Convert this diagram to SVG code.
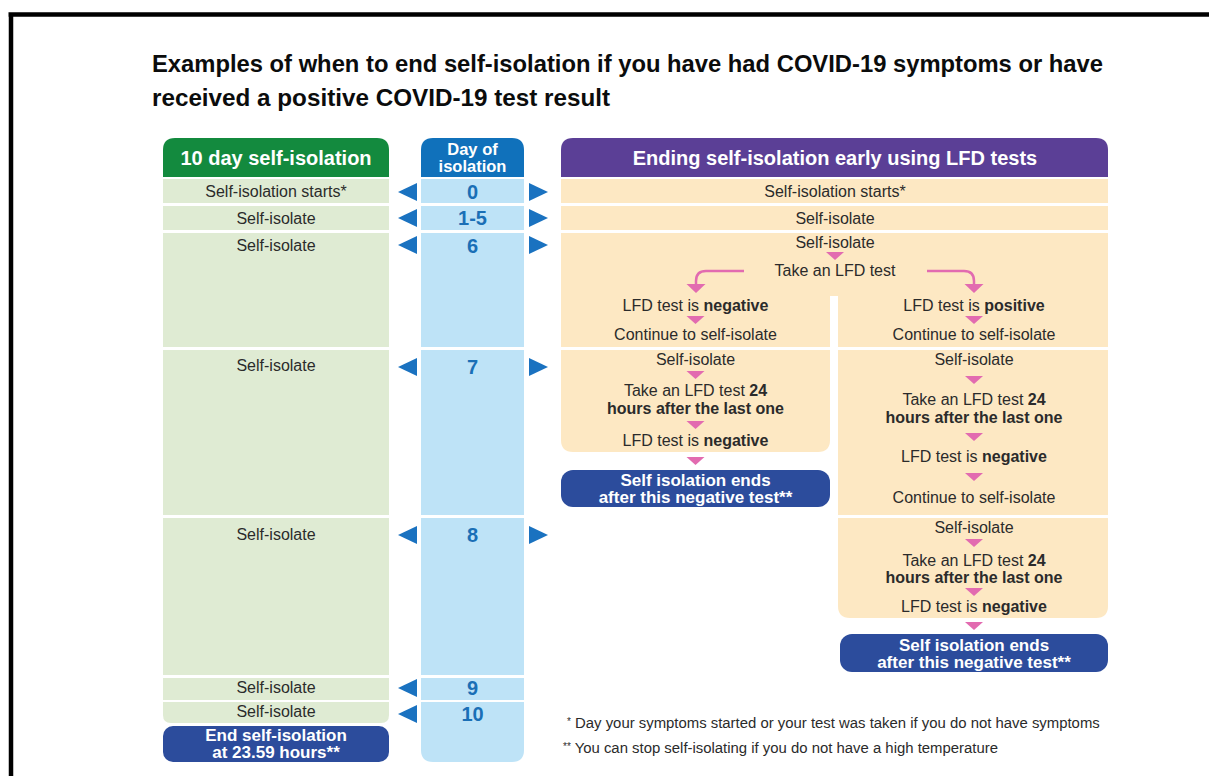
<svg xmlns="http://www.w3.org/2000/svg" width="1209" height="776" viewBox="0 0 1209 776">
<style>
.t{font-family:"Liberation Sans",Arial,sans-serif;font-size:16px;fill:#2b2b2b;text-anchor:middle}
.b{font-weight:bold}
.hd{font-family:"Liberation Sans",Arial,sans-serif;font-weight:bold;font-size:20px;fill:#fff;text-anchor:middle}
.hd2{font-family:"Liberation Sans",Arial,sans-serif;font-weight:bold;font-size:16.5px;fill:#fff;text-anchor:middle}
.wb{font-family:"Liberation Sans",Arial,sans-serif;font-weight:bold;font-size:17px;fill:#fff;text-anchor:middle}
.num{font-family:"Liberation Sans",Arial,sans-serif;font-weight:bold;font-size:20px;fill:#1a6fb6;text-anchor:middle}
.fn{font-family:"Liberation Sans",Arial,sans-serif;font-size:14.9px;fill:#2b2b2b}
.title{font-family:"Liberation Sans",Arial,sans-serif;font-weight:bold;font-size:24px;fill:#0b0c0c}
.g{fill:#dfebd3}
.lb{fill:#bee3f7}
.pe{fill:#fde8c3}
.db{fill:#2c4c9c}
.ba{fill:#1a72c0}
.pk{fill:#e26bb0}
.pl{fill:none;stroke:#e26bb0;stroke-width:2.5}
</style>
<rect width="1209" height="776" fill="#fff"/>
<path d="M8.5 14.5 H1209 M11 12.5 V776" stroke="#000" stroke-width="4.5" fill="none"/>

<g id="title">
<text class="title" x="152" y="72" textLength="951" lengthAdjust="spacingAndGlyphs">Examples of when to end self-isolation if you have had COVID-19 symptoms or have</text>
<text class="title" x="152" y="106" textLength="458" lengthAdjust="spacingAndGlyphs">received a positive COVID-19 test result</text>
</g>

<g id="left-header">
<path d="M163 177 V150 Q163 138 175 138 H377 Q389 138 389 150 V177 Z" fill="#138a3e"/>
<text class="hd" x="276" y="165">10 day self-isolation</text>
</g>
<g id="left-rows">
<rect class="g" x="163" y="179" width="226" height="24"/>
<text class="t" x="276" y="197">Self-isolation starts*</text>
<rect class="g" x="163" y="206" width="226" height="24"/>
<text class="t" x="276" y="224">Self-isolate</text>
<rect class="g" x="163" y="233" width="226" height="114"/>
<text class="t" x="276" y="251">Self-isolate</text>
<rect class="g" x="163" y="350" width="226" height="165"/>
<text class="t" x="276" y="371">Self-isolate</text>
<rect class="g" x="163" y="518" width="226" height="157"/>
<text class="t" x="276" y="540">Self-isolate</text>
<rect class="g" x="163" y="678" width="226" height="22"/>
<text class="t" x="276" y="693">Self-isolate</text>
<path class="g" d="M163 702 H389 V715 Q389 723 381 723 H171 Q163 723 163 715 Z"/>
<text class="t" x="276" y="717">Self-isolate</text>
</g>
<g id="left-end">
<rect class="db" x="163" y="726" width="226" height="36" rx="10"/>
<text class="wb" x="276" y="741">End self-isolation</text>
<text class="wb" x="276" y="758">at 23.59 hours**</text>
</g>

<g id="day-header">
<path d="M421 177 V150 Q421 138 433 138 H512 Q524 138 524 150 V177 Z" fill="#1071bb"/>
<text class="hd2" x="472.5" y="155">Day of</text>
<text class="hd2" x="472.5" y="172">isolation</text>
</g>
<g id="day-rows">
<rect class="lb" x="421" y="179" width="103" height="24"/>
<text class="num" x="472.5" y="199">0</text>
<rect class="lb" x="421" y="206" width="103" height="24"/>
<text class="num" x="472.5" y="225">1-5</text>
<rect class="lb" x="421" y="233" width="103" height="114"/>
<text class="num" x="472.5" y="253">6</text>
<rect class="lb" x="421" y="350" width="103" height="165"/>
<text class="num" x="472.5" y="374">7</text>
<rect class="lb" x="421" y="518" width="103" height="157"/>
<text class="num" x="472.5" y="542">8</text>
<rect class="lb" x="421" y="678" width="103" height="22"/>
<text class="num" x="472.5" y="695">9</text>
<path class="lb" d="M421 702 H524 V750 Q524 762 512 762 H433 Q421 762 421 750 Z"/>
<text class="num" x="472.5" y="721">10</text>
</g>

<g id="lfd-header">
<path d="M561 177 V150 Q561 138 573 138 H1096 Q1108 138 1108 150 V177 Z" fill="#5b3f96"/>
<text class="hd" x="835" y="165">Ending self-isolation early using LFD tests</text>
</g>
<g id="lfd-day0">
<rect class="pe" x="561" y="179" width="547" height="24"/>
<text class="t" x="835" y="197">Self-isolation starts*</text>
</g>
<g id="lfd-day1-5">
<rect class="pe" x="561" y="206" width="547" height="24"/>
<text class="t" x="835" y="224">Self-isolate</text>
</g>
<g id="lfd-day6">
<path class="pe" d="M561 233 H1108 V347 H838 V296 H830 V347 H561 Z"/>
<text class="t" x="835" y="248">Self-isolate</text>
<text class="t" x="835" y="276">Take an LFD test</text>
<text class="t" x="695.5" y="311">LFD test is <tspan class="b">negative</tspan></text>
<text class="t" x="695.5" y="340">Continue to self-isolate</text>
<text class="t" x="974" y="311">LFD test is <tspan class="b">positive</tspan></text>
<text class="t" x="974" y="340">Continue to self-isolate</text>
</g>
<g id="lfd-neg-day7">
<path class="pe" d="M561 350 H830 V440 Q830 452 818 452 H573 Q561 452 561 440 Z"/>
<text class="t" x="695.5" y="365">Self-isolate</text>
<text class="t" x="695.5" y="396">Take an LFD test <tspan class="b">24</tspan></text>
<text class="t b" x="695.5" y="414">hours after the last one</text>
<text class="t" x="695.5" y="446">LFD test is <tspan class="b">negative</tspan></text>
</g>
<g id="lfd-neg-end">
<rect class="db" x="561" y="470" width="269" height="37" rx="12"/>
<text class="wb" x="695.5" y="486">Self isolation ends</text>
<text class="wb" x="695.5" y="503">after this negative test**</text>
</g>
<g id="lfd-pos-day7">
<rect class="pe" x="838" y="350" width="270" height="165"/>
<text class="t" x="974" y="365">Self-isolate</text>
<text class="t" x="974" y="405">Take an LFD test <tspan class="b">24</tspan></text>
<text class="t b" x="974" y="423">hours after the last one</text>
<text class="t" x="974" y="462">LFD test is <tspan class="b">negative</tspan></text>
<text class="t" x="974" y="503">Continue to self-isolate</text>
</g>
<g id="lfd-pos-day8">
<path class="pe" d="M838 518 H1108 V606 Q1108 618 1096 618 H850 Q838 618 838 606 Z"/>
<text class="t" x="974" y="533">Self-isolate</text>
<text class="t" x="974" y="566">Take an LFD test <tspan class="b">24</tspan></text>
<text class="t b" x="974" y="583">hours after the last one</text>
<text class="t" x="974" y="612">LFD test is <tspan class="b">negative</tspan></text>
</g>
<g id="lfd-pos-end">
<rect class="db" x="840" y="634" width="268" height="38" rx="12"/>
<text class="wb" x="974" y="651">Self isolation ends</text>
<text class="wb" x="974" y="668">after this negative test**</text>
</g>

<g id="connectors">
<g id="day-arrows">
<polygon class="ba" points="417,183 417,201 398,192"/>
<polygon class="ba" points="529,183 529,201 548,192"/>
<polygon class="ba" points="417,209 417,227 398,218"/>
<polygon class="ba" points="529,209 529,227 548,218"/>
<polygon class="ba" points="417,236 417,254 398,245"/>
<polygon class="ba" points="529,236 529,254 548,245"/>
<polygon class="ba" points="417,358 417,376 398,367"/>
<polygon class="ba" points="529,358 529,376 548,367"/>
<polygon class="ba" points="417,526 417,544 398,535"/>
<polygon class="ba" points="529,526 529,544 548,535"/>
<polygon class="ba" points="417,679 417,697 398,688"/>
<polygon class="ba" points="417,705 417,723 398,714"/>
</g>
<g id="flow-arrows">
<polygon class="pk" points="826,252 844,252 835,260"/>
<path class="pl" d="M744 271 H706 Q696 271 696 281 V285"/>
<polygon class="pk" points="686.5,284 705.5,284 696,293"/>
<path class="pl" d="M927 271 H964 Q974 271 974 281 V285"/>
<polygon class="pk" points="964.5,284 983.5,284 974,293"/>
<polygon class="pk" points="686.5,316 704.5,316 695.5,324"/>
<polygon class="pk" points="965,316 983,316 974,324"/>
<polygon class="pk" points="686.5,371 704.5,371 695.5,379"/>
<polygon class="pk" points="686.5,421 704.5,421 695.5,429"/>
<polygon class="pk" points="686.5,457 704.5,457 695.5,465"/>
<polygon class="pk" points="965,376 983,376 974,384"/>
<polygon class="pk" points="965,433 983,433 974,441"/>
<polygon class="pk" points="965,473 983,473 974,481"/>
<polygon class="pk" points="965,539 983,539 974,547"/>
<polygon class="pk" points="965,588 983,588 974,596"/>
<polygon class="pk" points="965,622 983,622 974,630"/>
</g>
</g>

<g id="footnotes">
<text class="fn" x="567" y="728"><tspan font-size="10" dy="-3">*</tspan><tspan dy="3"> Day your symptoms started or your test was taken if you do not have symptoms</tspan></text>
<text class="fn" x="563" y="753"><tspan font-size="10" dy="-3">**</tspan><tspan dy="3"> You can stop self-isolating if you do not have a high temperature</tspan></text>
</g>
</svg>
